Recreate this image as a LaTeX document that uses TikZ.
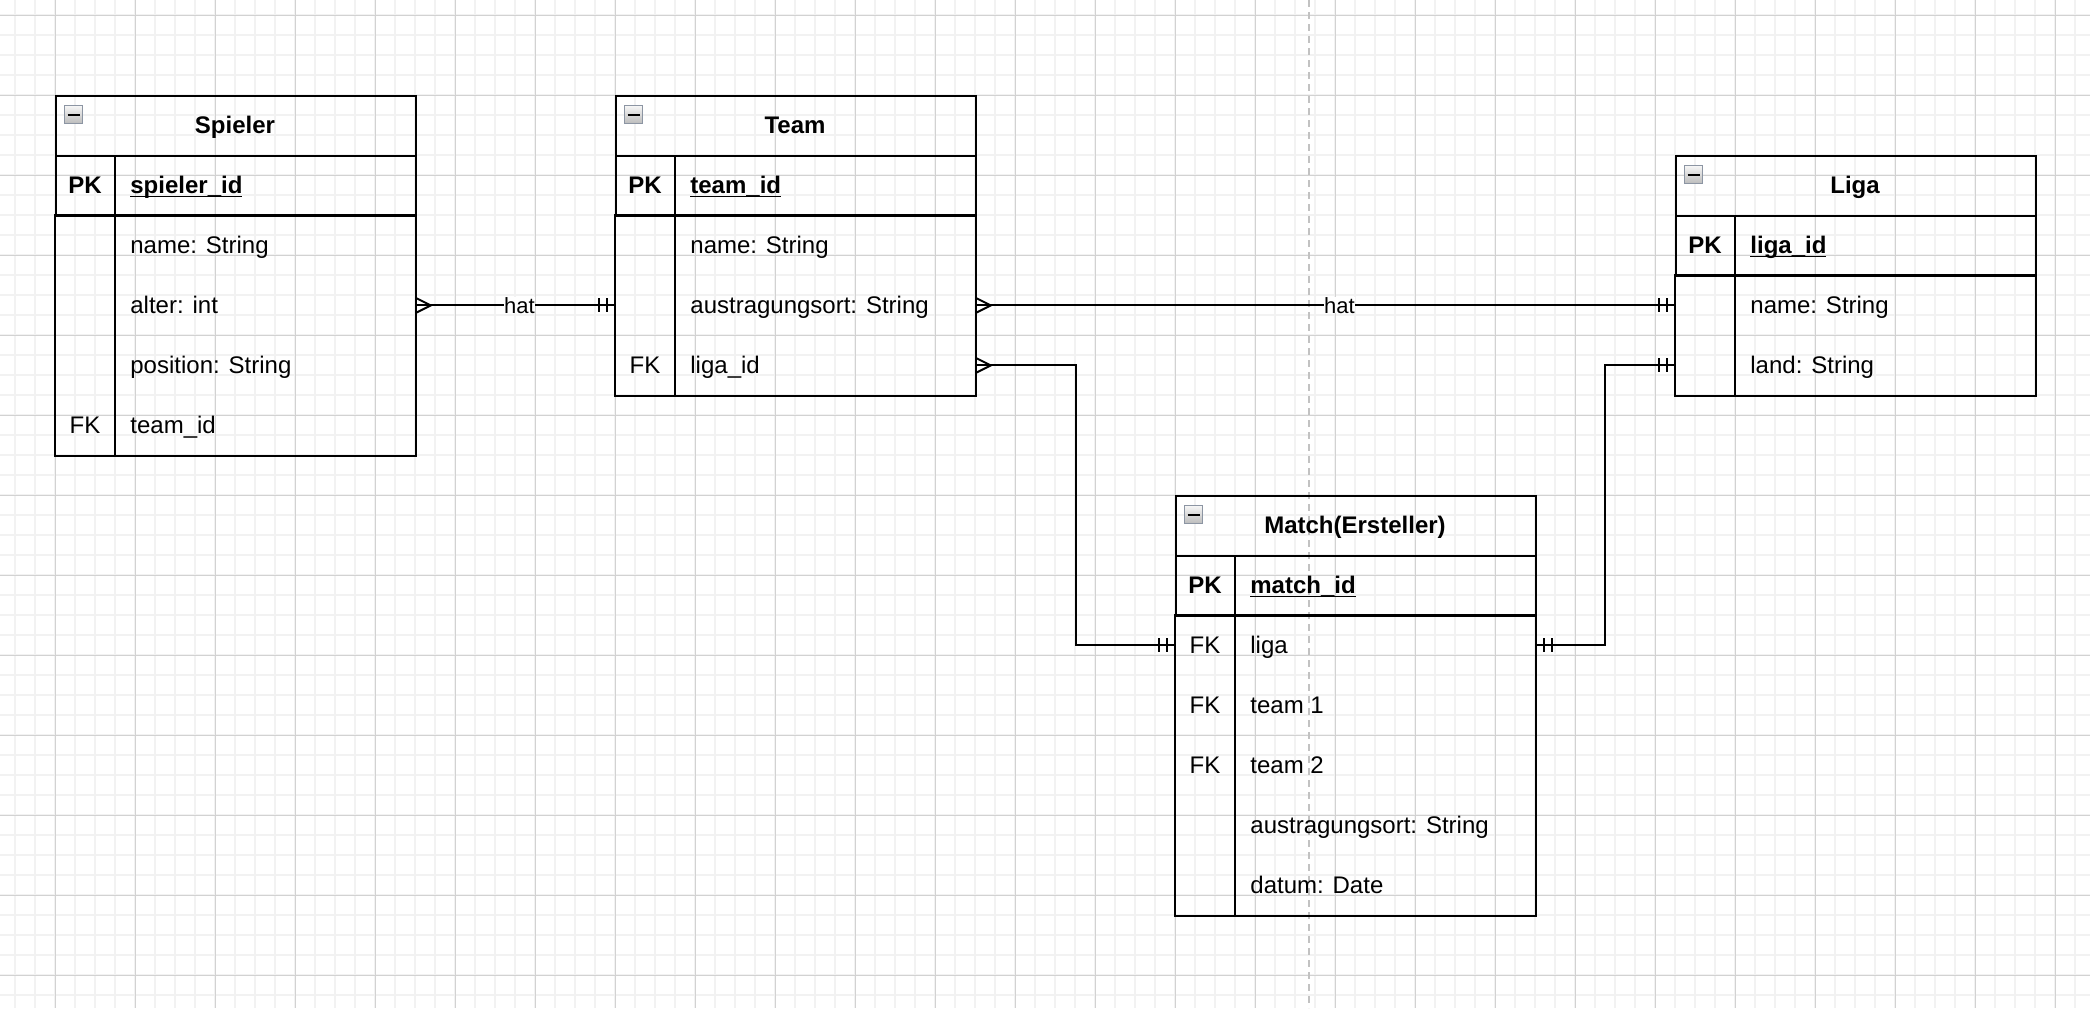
\documentclass[tikz,border=0pt]{standalone}
\usepackage{fontspec}
\setmainfont{Liberation Sans}
\usetikzlibrary{calc}

\definecolor{gridminor}{HTML}{F2F2F2}
\definecolor{gridmajor}{HTML}{D2D2D2}
\definecolor{guide}{HTML}{C2C2C2}
\definecolor{iconedge}{HTML}{8C95A3}
\definecolor{icontop}{HTML}{F6F6F6}
\definecolor{iconbottom}{HTML}{BBBBBB}

\tikzset{
  er line/.style={line width=1pt, draw=black},
  hdr/.style={draw, line width=1pt, anchor=north west, minimum width=180pt,
    minimum height=30pt, inner sep=0pt},
  keyrow/.style={hdr},
  attrrow/.style={anchor=north west, minimum width=180pt, minimum height=30pt, inner sep=0pt},
  titletxt/.style={anchor=base, inner sep=0pt, font=\fontsize{12pt}{14pt}\selectfont\bfseries},
  keytxt/.style={anchor=base, inner sep=0pt, font=\fontsize{12pt}{14pt}\selectfont},
  pktxt/.style={anchor=base, inner sep=0pt, font=\fontsize{12pt}{14pt}\selectfont\bfseries},
  fieldtxt/.style={anchor=base west, inner sep=0pt, font=\fontsize{12pt}{14pt}\selectfont},
  pkfield/.style={anchor=base west, inner sep=0pt, font=\fontsize{12pt}{14pt}\selectfont\bfseries},
  minbox/.style={anchor=north west, minimum size=9pt, inner sep=0pt, draw=iconedge,
    line width=0.6pt, top color=icontop, bottom color=iconbottom},
  edgelabel/.style={fill=white, inner sep=0pt, font=\fontsize{11pt}{13pt}\selectfont},
}

% underlined primary key name
\newcommand\keyname[1]{\setbox0\hbox{#1}\rlap{\rule[-2.2pt]{\wd0}{0.9pt}}\box0}

% table header + primary key row: name, x, y, title, key field
\newcommand\erhead[5]{%
  \node[hdr] (#1) at (#2,#3) {};
  \node[titletxt] (#1-title) at (#2+180,#3+38) {#4};
  \node[minbox] (#1-min) at (#2+9,#3+10) {};
  \draw[line width=1pt] ($(#1-min.center)+(-6,0)$) -- ($(#1-min.center)+(6,0)$);
  \node[keyrow] (#1-pk) at (#2,#3+60) {};
  \node[pktxt] (#1-pkk) at (#2+30,#3+98) {PK};
  \node[pkfield] (#1-pkf) at (#2+75,#3+98) {\keyname{#5}};
}

% attribute row: table, index, x, y, key tag, text
\newcommand\erfield[6]{%
  \node[attrrow] (#1-a#2) at (#3,#4+60+60*#2) {};
  \node[keytxt] (#1-k#2) at (#3+30,#4+98+60*#2) {#5};
  \node[fieldtxt] (#1-f#2) at (#3+75,#4+98+60*#2) {#6};
}

% frame around the attribute rows and the key column divider
\newcommand\erbody[4]{%
  \draw[er line] (#1-a1.north west) rectangle (#1-a#4.south east);
  \draw[er line] (#2+60,#3+60) -- (#2+60,#3+120+60*#4);
}

% crow's foot (many): anchor, direction (+1 right, -1 left)
\newcommand\crowfoot[2]{%
  \draw[er line] ($(#1)+(0,-7.5)$) -- ($(#1)+(#2*15,0)$) -- ($(#1)+(0,7.5)$);
}
% mandatory one: anchor, direction
\newcommand\onlyone[2]{%
  \draw[er line] ($(#1)+(#2*8,-7)$) -- ($(#1)+(#2*8,7)$)
                 ($(#1)+(#2*16,-7)$) -- ($(#1)+(#2*16,7)$);
}

\begin{document}
\begin{tikzpicture}[x=0.5pt,y=-0.5pt]
\useasboundingbox (0,0) rectangle (2090,1008);
\fill[white] (0,0) rectangle (2090,1008);

% background grid
\foreach \i in {0,...,103} \draw[gridminor, line width=0.85pt] (15+20*\i,0) -- (15+20*\i,1008);
\foreach \i in {0,...,49} \draw[gridminor, line width=0.85pt] (0,15+20*\i) -- (2090,15+20*\i);
\foreach \i in {0,...,25} \draw[gridmajor, line width=0.5pt] (55+80*\i,0) -- (55+80*\i,1008);
\foreach \i in {0,...,12} \draw[gridmajor, line width=0.5pt] (0,15+80*\i) -- (2090,15+80*\i);

% page guide
\draw[guide, line width=1pt, dash pattern=on 3.5pt off 2.5pt] (1309,0) -- (1309,1008);

% Spieler
\erhead{sp}{55}{95}{Spieler}{spieler\_id}
\erfield{sp}{1}{55}{95}{}{name: String}
\erfield{sp}{2}{55}{95}{}{alter: int}
\erfield{sp}{3}{55}{95}{}{position: String}
\erfield{sp}{4}{55}{95}{FK}{team\_id}
\erbody{sp}{55}{95}{4}

% Team
\erhead{tm}{615}{95}{Team}{team\_id}
\erfield{tm}{1}{615}{95}{}{name: String}
\erfield{tm}{2}{615}{95}{}{austragungsort: String}
\erfield{tm}{3}{615}{95}{FK}{liga\_id}
\erbody{tm}{615}{95}{3}

% Liga
\erhead{lg}{1675}{155}{Liga}{liga\_id}
\erfield{lg}{1}{1675}{155}{}{name: String}
\erfield{lg}{2}{1675}{155}{}{land: String}
\erbody{lg}{1675}{155}{2}

% Match
\erhead{mt}{1175}{495}{Match(Ersteller)}{match\_id}
\erfield{mt}{1}{1175}{495}{FK}{liga}
\erfield{mt}{2}{1175}{495}{FK}{team 1}
\erfield{mt}{3}{1175}{495}{FK}{team 2}
\erfield{mt}{4}{1175}{495}{}{austragungsort: String}
\erfield{mt}{5}{1175}{495}{}{datum: Date}
\erbody{mt}{1175}{495}{5}

% relationships
\draw[er line] (sp-a2.east) -- node[edgelabel, pos=0.52] (hat1) {hat} (tm-a2.west);
\crowfoot{sp-a2.east}{1}
\onlyone{tm-a2.west}{-1}

\draw[er line] (tm-a2.east) -- node[edgelabel, pos=0.52] (hat2) {hat} (lg-a1.west);
\crowfoot{tm-a2.east}{1}
\onlyone{lg-a1.west}{-1}

\draw[er line] (tm-a3.east) -- ++(100,0) |- (mt-a1.west);
\crowfoot{tm-a3.east}{1}
\onlyone{mt-a1.west}{-1}

\draw[er line] (lg-a2.west) -- ++(-70,0) |- (mt-a1.east);
\onlyone{lg-a2.west}{-1}
\onlyone{mt-a1.east}{1}
\end{tikzpicture}
\end{document}
